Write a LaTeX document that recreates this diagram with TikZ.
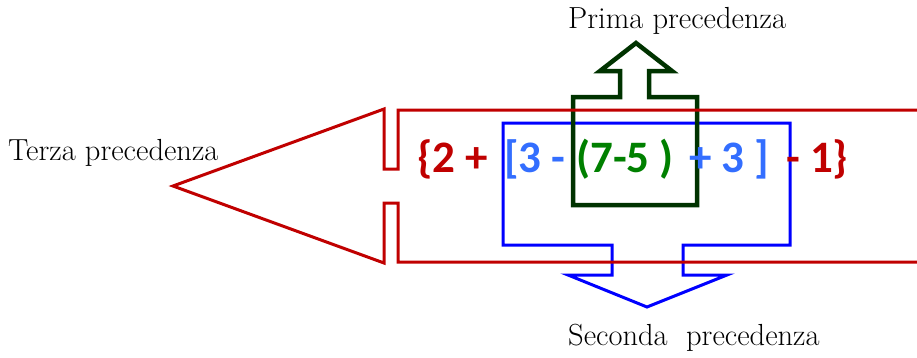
\documentclass[tikz,border=0pt]{standalone}
\usepackage{fontspec}
\newfontfamily\exprfont{Carlito}
\usepackage{tikz}
\usetikzlibrary{positioning}
\definecolor{terzared}{RGB}{192,0,0}
\definecolor{secondablue}{RGB}{0,0,255}
\definecolor{secondatext}{RGB}{51,110,255}
\definecolor{primagreen}{RGB}{0,51,0}
\definecolor{primatext}{RGB}{0,128,0}
\tikzset{
  lbl/.style={font=\fontsize{30.5}{34}\selectfont, anchor=base west, inner sep=0pt},
  expr/.style={font=\exprfont\bfseries\fontsize{45}{48}\selectfont, anchor=base west, inner sep=0pt},
  terza/.style={draw=terzared, line width=3pt, line join=miter},
  seconda/.style={draw=secondablue, line width=3pt, line join=miter},
  prima/.style={draw=primagreen, line width=4.5pt, line join=miter}
}
\begin{document}
\begin{tikzpicture}[x=1pt, y=-1pt]
  \useasboundingbox (0,0) rectangle (917,357);
  % second precedence: blue box with arrow down
  \draw[seconda] (503,123) -- (790,123) -- (790,245) -- (683,245) -- (683,275) -- (727,275)
    -- (647,307) -- (568,275) -- (612,275) -- (612,245) -- (503,245) -- cycle;
  % first precedence: green box with arrow up
  \draw[prima] (573,97) -- (573,205) -- (697,205) -- (697,97) -- (649,97) -- (649,71) -- (672,71)
    -- (636,43) -- (600,71) -- (620,71) -- (620,97) -- cycle;
  % third precedence: red band with arrow left
  \draw[terza] (917,110) -- (398,110) -- (398,169) -- (384,169) -- (384,109) -- (173,186)
    -- (384,263) -- (384,203) -- (398,203) -- (398,262) -- (917,262);
  % expression
  \node[expr, text=terzared] (e1) at (417,172) {\{2 +};
  \node[expr, text=secondatext] (e2) at (504,172) {[3 -};
  \node[expr, text=primatext] (e3) at (576,172) {(7-5 )};
  \node[expr, text=secondatext] (e4) at (689,172) {+ 3 ]};
  \node[expr, text=terzared] (e5) at (786,172) {- 1\}};
  % labels
  \node[lbl] (terzalbl) at (8,160) {Terza precedenza};
  \node[lbl] (primalbl) at (568,28) {Prima precedenza};
  \node[lbl] (secondalbl) at (568,345) {Seconda~ precedenza};
\end{tikzpicture}
\end{document}
